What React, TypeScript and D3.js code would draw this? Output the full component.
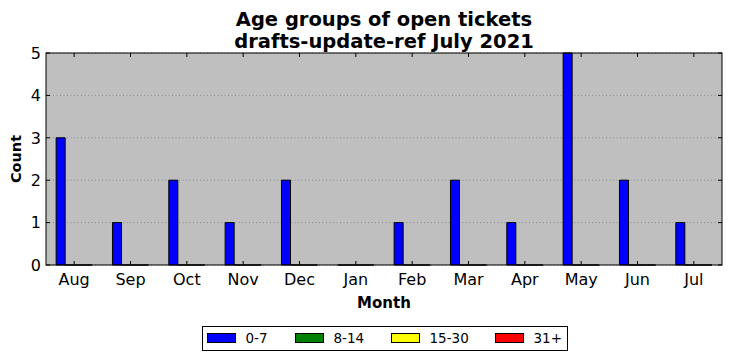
import React from "react";
import * as d3 from "d3";

const months = ["Aug", "Sep", "Oct", "Nov", "Dec", "Jan", "Feb", "Mar", "Apr", "May", "Jun", "Jul"];
const ageGroups = ["0-7", "8-14", "15-30", "31+"];
const groupColors = ["#0000ff", "#008000", "#ffff00", "#ff0000"];
const age0to7 = [3, 1, 2, 1, 2, 0, 1, 2, 1, 5, 2, 1];
const age8to14 = [0, 0, 0, 0, 0, 0, 0, 0, 0, 0, 0, 0];
const age15to30 = [0, 0, 0, 0, 0, 0, 0, 0, 0, 0, 0, 0];
const age31plus = [0, 0, 0, 0, 0, 0, 0, 0, 0, 0, 0, 0];
const yTicks = [0, 1, 2, 3, 4, 5];

const W = 732;
const H = 361;
const margin = { left: 46, right: 10, top: 53, bottom: 96 };
const barW = 0.16;

export default function App() {
    React.useEffect(() => {
        document.body.style.margin = "0";
    }, []);

    const series = [age0to7, age8to14, age15to30, age31plus];
    const x = d3.scaleLinear().domain([-0.5, months.length - 0.5]).range([margin.left, W - margin.right]);
    const y = d3.scaleLinear().domain([0, 5]).range([H - margin.bottom, margin.top]);
    const [x0, x1] = x.range();
    const [y0, y1] = y.range();
    const font = "'DejaVu Sans', sans-serif";

    // legend layout
    const legX = 202.5, legY = 326.5, legW = 365, legH = 24;
    const legItemX = [207, 295, 391, 495];

    return (
        <svg width={W} height={H} style={{ display: "block", background: "#fff" }} fontFamily={font}>
            <rect x={x0} y={y1} width={x1 - x0} height={y0 - y1} fill="#bfbfbf" />
            {/* grid */}
            {yTicks.map(t => (
                <line key={"g" + t} x1={x0} x2={x1} y1={y(t)} y2={y(t)} stroke="#666" strokeWidth={0.6} strokeDasharray="1,2.5" />
            ))}
            {/* bars */}
            {series.map((vals, s) =>
                vals.map((v, i) => {
                    const bx0 = x(i - 2 * barW + s * barW);
                    const bx1 = x(i - 2 * barW + (s + 1) * barW);
                    const p = d3.path();
                    p.moveTo(bx0, y(0));
                    p.lineTo(bx1, y(0));
                    p.lineTo(bx1, y(v));
                    p.lineTo(bx0, y(v));
                    p.closePath();
                    return <path key={s + "-" + i} d={p.toString()} fill={groupColors[s]} stroke="#000" strokeWidth={1} />;
                })
            )}
            {/* ticks */}
            {months.map((m, i) => (
                <g key={m}>
                    <line x1={x(i)} x2={x(i)} y1={y0} y2={y0 - 4} stroke="#000" />
                    <line x1={x(i)} x2={x(i)} y1={y1} y2={y1 + 4} stroke="#000" />
                    <text x={x(i)} y={285} fontSize={16} textAnchor="middle">{m}</text>
                </g>
            ))}
            {yTicks.map(t => (
                <g key={"t" + t}>
                    <line x1={x0} x2={x0 + 4} y1={y(t)} y2={y(t)} stroke="#000" />
                    <line x1={x1} x2={x1 - 4} y1={y(t)} y2={y(t)} stroke="#000" />
                    <text x={x0 - 5} y={y(t)} dy="0.36em" fontSize={16} textAnchor="end">{t}</text>
                </g>
            ))}
            <rect x={x0} y={y1} width={x1 - x0} height={y0 - y1} fill="none" stroke="#000" strokeWidth={1} />
            {/* labels */}
            <text x={(x0 + x1) / 2} y={26} fontSize={19.5} fontWeight="bold" textAnchor="middle">Age groups of open tickets</text>
            <text x={(x0 + x1) / 2} y={48} fontSize={19.5} fontWeight="bold" textAnchor="middle">drafts-update-ref July 2021</text>
            <text x={(x0 + x1) / 2} y={308} fontSize={15} fontWeight="bold" textAnchor="middle">Month</text>
            <text transform={`translate(21,${(y0 + y1) / 2}) rotate(-90)`} fontSize={14.5} fontWeight="bold" textAnchor="middle">Count</text>
            {/* legend */}
            <rect x={legX} y={legY} width={legW} height={legH} fill="#fff" stroke="#000" strokeWidth={1} />
            {ageGroups.map((g, k) => (
                <g key={g}>
                    <rect x={legItemX[k] + 0.5} y={333.5} width={28} height={9} fill={groupColors[k]} stroke="#000" strokeWidth={1} />
                    <text x={legItemX[k] + 38.5} y={338} dy="0.36em" fontSize={13.5}>{g}</text>
                </g>
            ))}
        </svg>
    );
}
